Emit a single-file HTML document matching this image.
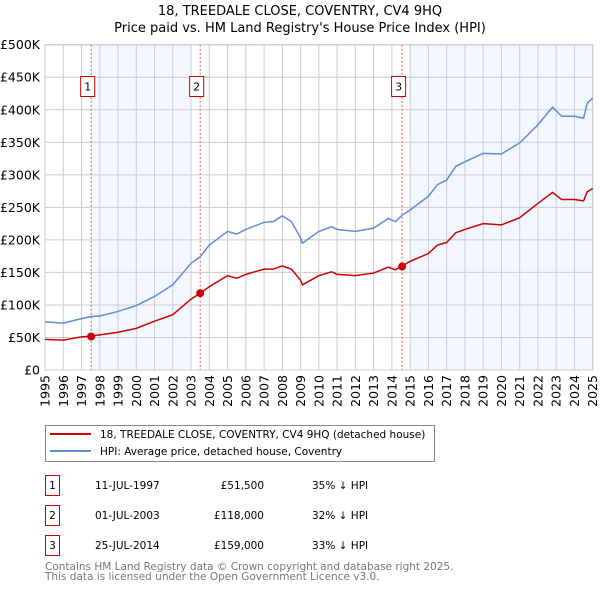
<!DOCTYPE html>
<html><head><meta charset="utf-8"><style>
body{margin:0;background:#fff;}
svg{display:block;font-family:"DejaVu Sans","Liberation Sans",sans-serif;}
</style></head><body>
<svg id="chart" width="600" height="590" viewBox="0 0 600 590">
<text x="300" y="15" text-anchor="middle" font-size="13" fill="#000">18, TREEDALE CLOSE, COVENTRY, CV4 9HQ</text>
<text x="300" y="32" text-anchor="middle" font-size="13" fill="#000">Price paid vs. HM Land Registry's House Price Index (HPI)</text>
<g id="plot"></g>
<g>
<rect x="45.5" y="425.5" width="389" height="36" fill="#fff" stroke="#888"/>
<line x1="50" y1="434" x2="91" y2="434" stroke="#cc0000" stroke-width="2"/>
<text x="100" y="438" font-size="10.5">18, TREEDALE CLOSE, COVENTRY, CV4 9HQ (detached house)</text>
<line x1="50" y1="451" x2="91" y2="451" stroke="#5b8fd4" stroke-width="2"/>
<text x="100" y="455" font-size="10.5">HPI: Average price, detached house, Coventry</text>
</g>
<g font-size="10.5">
<rect x="45.5" y="475.5" width="14" height="20" fill="#fff" stroke="#cc0000"/>
<text x="52.5" y="489" text-anchor="middle">1</text>
<text x="95" y="489">11-JUL-1997</text>
<text x="264" y="489" text-anchor="end">£51,500</text>
<text x="312" y="489">35% ↓ HPI</text>
<rect x="45.5" y="505.5" width="14" height="20" fill="#fff" stroke="#cc0000"/>
<text x="52.5" y="519" text-anchor="middle">2</text>
<text x="95" y="519">01-JUL-2003</text>
<text x="264" y="519" text-anchor="end">£118,000</text>
<text x="312" y="519">32% ↓ HPI</text>
<rect x="45.5" y="535.5" width="14" height="20" fill="#fff" stroke="#cc0000"/>
<text x="52.5" y="549" text-anchor="middle">3</text>
<text x="95" y="549">25-JUL-2014</text>
<text x="264" y="549" text-anchor="end">£159,000</text>
<text x="312" y="549">33% ↓ HPI</text>
</g>
<text x="45" y="570" font-size="10.5" fill="#777">Contains HM Land Registry data © Crown copyright and database right 2025.</text>
<text x="45" y="580" font-size="10.5" fill="#777">This data is licensed under the Open Government Licence v3.0.</text>
</svg>
<script>
const hpiYears=[1995,1996,1997,1997.5,1998,1999,2000,2001,2002,2003,2003.5,2004,2005,2005.5,2006,2007,2007.5,2008,2008.5,2009,2009.1,2010,2010.7,2011,2012,2013,2013.8,2014.2,2014.56,2015,2016,2016.5,2017,2017.5,2018,2019,2020,2021,2022,2022.8,2023.3,2024,2024.5,2024.7,2025];
const hpiValues=[74,72,79,82,83,90,99,113,131,164,174,192,213,209,216,227,228,237,228,203,195,213,220,216,213,218,233,228,238,246,267,285,292,313,320,333,332,349,377,404,390,390,387,410,418];
const priceValues=[47,46,51,52,54,58,64,75,85,109,118,128,145,141,147,155,155,160,155,138,131,145,151,147,145,149,158,154,160,167,179,192,196,211,216,225,223,234,256,273,262,262,260,274,279];
const saleYears=[1997.53,2003.5,2014.56];
const salePrices=[51.5,118,159];
const saleLabels=["1","2","3"];
const shadeRanges=[[1997.53,2003.0],[2015.0,2025]];
const yTicks=[0,50,100,150,200,250,300,350,400,450,500];
const yTickLabels=["£0","£50K","£100K","£150K","£200K","£250K","£300K","£350K","£400K","£450K","£500K"];
const xTicks=[1995,1996,1997,1998,1999,2000,2001,2002,2003,2004,2005,2006,2007,2008,2009,2010,2011,2012,2013,2014,2015,2016,2017,2018,2019,2020,2021,2022,2023,2024,2025];

const X0=45,X1=592.7,Y0=370,Y1=44.7;
const xs=y=>X0+(y-1995)/30*(X1-X0);
const ys=v=>Y0-v/500*(Y0-Y1);
const NS="http://www.w3.org/2000/svg";
const g=document.getElementById('plot');
function mk(t,a){const e=document.createElementNS(NS,t);for(const k in a)e.setAttribute(k,a[k]);g.appendChild(e);return e;}
shadeRanges.forEach((r,i)=>{
 const e=mk('rect',{x:xs(r[0]),y:Y1,width:xs(r[1])-xs(r[0]),height:Y0-Y1,fill:'#eef3fd',opacity:0.75});
 
 
});
yTicks.forEach((v,i)=>{
 const l=mk('line',{x1:X0,x2:X1,y1:ys(v),y2:ys(v),stroke:'#cccccc','stroke-width':1});
 
 
 const t=mk('text',{x:40,y:ys(v)+4.5,'text-anchor':'end','font-size':12.5,fill:'#000'});
 t.textContent=yTickLabels[i];
 
 
});
xTicks.forEach(y=>{
 const l=mk('line',{x1:xs(y),x2:xs(y),y1:Y1,y2:Y0,stroke:'#cccccc','stroke-width':1});
 
 
 const t=mk('text',{x:0,y:0,'text-anchor':'end','font-size':12.5,fill:'#000',transform:`translate(${xs(y)+4.5},${Y0+5}) rotate(-90)`});
 t.textContent=y;
 
 
});
const fr=mk('rect',{x:X0,y:Y1,width:X1-X0,height:Y0-Y1,fill:'none',stroke:'#cccccc'});


saleYears.forEach((y,i)=>{
 const l=mk('line',{x1:xs(y),x2:xs(y),y1:Y1,y2:Y0,stroke:'#ee5555','stroke-width':1,'stroke-dasharray':'2,2'});
 
 
 const b=mk('rect',{x:xs(y)-10.5,y:76.5,width:14,height:20,fill:'#fff',stroke:'#cc0000'});
 
 
 const t=mk('text',{x:xs(y)-3.5,y:90.5,'text-anchor':'middle','font-size':11});
 t.textContent=saleLabels[i];
 
 
});
const hp=mk('polyline',{points:hpiYears.map((y,i)=>xs(y)+','+ys(hpiValues[i])).join(' '),fill:'none',stroke:'#5b8fd4','stroke-width':1.5});


const pp=mk('polyline',{points:hpiYears.map((y,i)=>xs(y)+','+ys(priceValues[i])).join(' '),fill:'none',stroke:'#cc0000','stroke-width':1.5});


saleYears.forEach((y,i)=>{
 const c=mk('circle',{cx:xs(y),cy:ys(salePrices[i]),r:4,fill:'#cc0000'});
 
 
});
</script>
</body></html>
